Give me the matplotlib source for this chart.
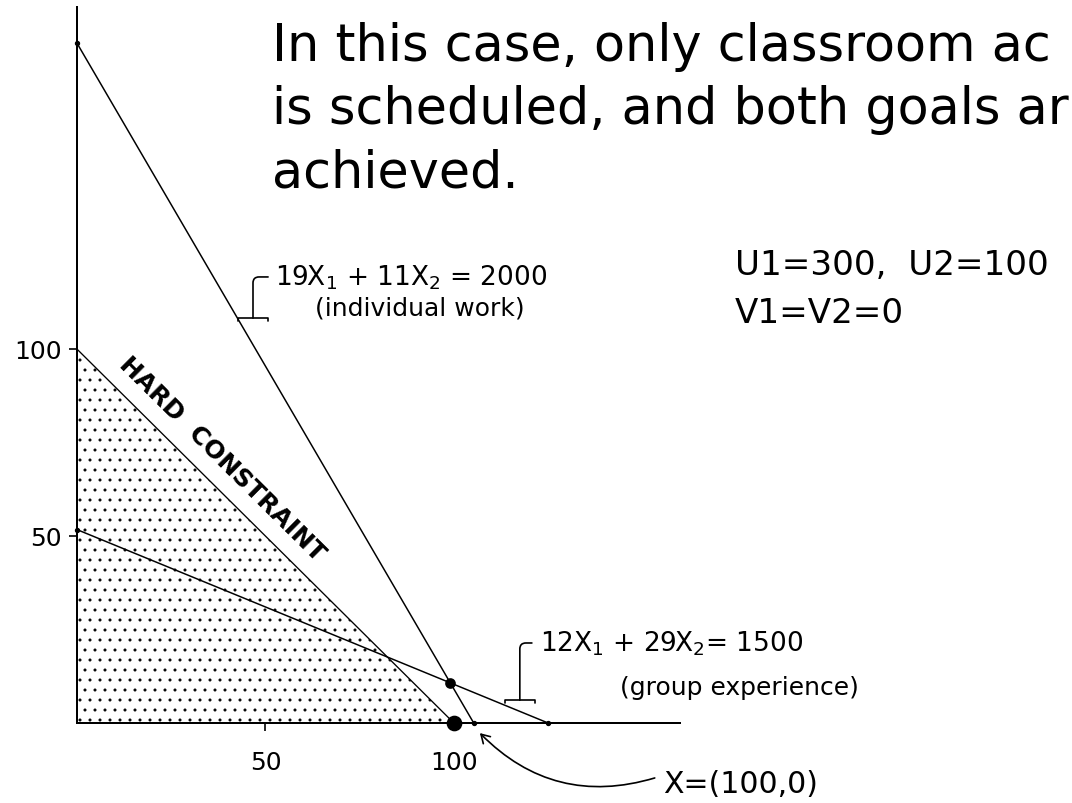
import numpy as np
import matplotlib.pyplot as plt
from matplotlib.patches import Polygon

# each line is a*X1 + b*X2 = c
individual = (19, 11, 2000)
group = (12, 29, 1500)
hard = (1, 1, 100)
solution = (100, 0)

x_ticks = [50, 100]
y_ticks = [50, 100]

# the heading runs off the right edge in the original, only this much shows
title_lines = ["In this case, only classroom ac",
               "is scheduled, and both goals ar",
               "achieved."]
dev_lines = ["U1=300,  U2=100", "V1=V2=0"]

plt.rcParams['hatch.linewidth'] = 0.6
plt.rcParams['mathtext.default'] = 'regular'


def intercepts(eq):
    a, b, c = eq
    return c / a, c / b


fig = plt.figure(figsize=(1072 / 120, 803 / 120), dpi=120)
ax = fig.add_axes([77 / 1072, 80 / 803, 603 / 1072, 716 / 803])
ax.set_xlim(0, 160)
ax.set_ylim(0, 191.5)
for s in ['top', 'right']:
    ax.spines[s].set_visible(False)
for s in ['left', 'bottom']:
    ax.spines[s].set_linewidth(1.2)

ax.set_xticks(x_ticks)
ax.set_yticks(y_ticks)
ax.tick_params(direction='out', length=5, width=1, labelsize=15)
ax.tick_params(axis='x', pad=12)
ax.tick_params(axis='y', pad=4)

# feasible region under the hard constraint
hx, hy = intercepts(hard)
ax.add_patch(Polygon([(0, 0), (0, hy), (hx, 0)], closed=True,
                     facecolor='white', edgecolor='black', hatch='..', lw=0))

for eq in (individual, group):
    xi, yi = intercepts(eq)
    ax.plot([0, xi], [yi, 0], color='black', lw=0.9, marker='o', ms=2.2,
            clip_on=False)
ax.plot([0, hx], [hy, 0], color='black', lw=0.8, clip_on=False)

# where the two goal lines cross
A = np.array([individual[:2], group[:2]], dtype=float)
c = np.array([individual[2], group[2]], dtype=float)
px, py = np.linalg.solve(A, c)
ax.plot(px, py, 'o', color='black', ms=5.4, clip_on=False, zorder=5)
ax.plot(*solution, 'o', color='black', ms=8.4, clip_on=False, zorder=5)

# hard constraint label along the line
p0 = ax.transData.transform((0, hy))
p1 = ax.transData.transform((hx, 0))
ang = np.degrees(np.arctan2(p1[1] - p0[1], p1[0] - p0[0]))
ax.annotate("HARD  CONSTRAINT", xy=(34, 66), xytext=(10, 10),
            textcoords='offset points', rotation=ang, rotation_mode='anchor',
            ha='center', va='center', fontsize=15, fontweight='bold')

# equation labels and leaders
ax.text(52.5, 117.1, r"19X$_1$ + 11X$_2$ = 2000", fontsize=15.8, va='baseline')
ax.text(63.1, 109.1, "(individual work)", fontsize=15, va='baseline')
ax.annotate('', xy=(46.7, 108.3), xytext=(50.7, 119.3), annotation_clip=False,
            arrowprops=dict(arrowstyle='-[, widthB=0.9, lengthB=0.15',
                            connectionstyle='angle,angleA=0,angleB=90,rad=6',
                            lw=1.0, color='black', mutation_scale=10,
                            shrinkA=0, shrinkB=0))

ax.text(122.8, 19.0, r"12X$_1$ + 29X$_2$= 1500", fontsize=15.8, va='baseline')
ax.text(144.0, 7.5, "(group experience)", fontsize=15, va='baseline')
ax.annotate('', xy=(117.5, 6.1), xytext=(120.7, 21.4), annotation_clip=False,
            arrowprops=dict(arrowstyle='-[, widthB=0.9, lengthB=0.15',
                            connectionstyle='angle,angleA=0,angleB=90,rad=6',
                            lw=1.0, color='black', mutation_scale=10,
                            shrinkA=0, shrinkB=0))

ax.text(155.4, -18.7, "X=(%d,%d)" % solution, fontsize=18, va='baseline')
ax.annotate('', xy=(106.9, -2.7), xytext=(153.3, -14.7), annotation_clip=False,
            arrowprops=dict(arrowstyle='->, head_length=0.5, head_width=0.3',
                            connectionstyle='arc3,rad=-0.3',
                            lw=1.0, color='black', shrinkA=0, shrinkB=0))

ax.text(174.5, 119.8, dev_lines[0], fontsize=20.5, va='baseline')
ax.text(174.5, 107.0, dev_lines[1], fontsize=20.5, va='baseline')

for i, line in enumerate(title_lines):
    fig.text(272 / 1072, 1 - (61 + 63 * i) / 803, line, fontsize=30.5,
             va='baseline')

fig.savefig('out.png', dpi=120)
